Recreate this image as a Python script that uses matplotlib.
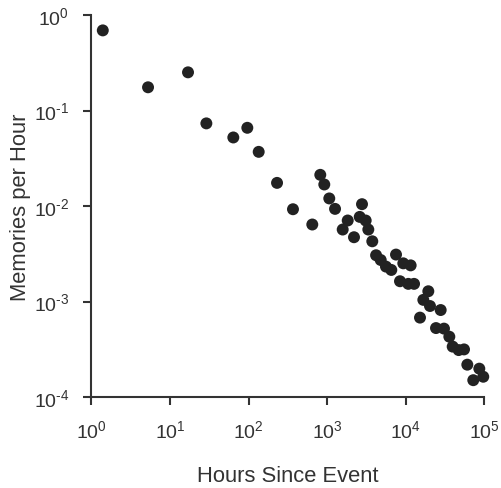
import matplotlib
matplotlib.use("Agg")
import matplotlib.pyplot as plt
from matplotlib.ticker import FixedLocator, NullLocator, FuncFormatter
import math

plt.rcParams['font.family'] = ['Liberation Sans', 'DejaVu Sans']
plt.rcParams['mathtext.fontset'] = 'custom'
plt.rcParams['mathtext.rm'] = 'Liberation Sans'
plt.rcParams['mathtext.it'] = 'Liberation Sans'

hours = [1.40, 5.27, 17.0, 29.1, 64.1, 96.6, 134.8, 230.7, 368, 648,
         819, 921, 1066, 1262, 1579, 1829, 2199, 2600, 2780, 3097, 3345, 3758,
         4200, 4810, 5610, 6560, 7530, 9320, 11560, 8460, 10790, 12770,
         19400, 16760, 20370, 27860, 15200, 24300, 30700, 35900, 39600,
         47200, 55200, 60800, 86400, 97000, 72400]
memories = [0.69, 0.175, 0.251, 0.0733, 0.0522, 0.0659, 0.0369, 0.01746, 0.00925, 0.0064,
            0.0212, 0.0168, 0.0120, 0.00933, 0.00567, 0.00705, 0.00471, 0.00769, 0.01045, 0.00705, 0.00567, 0.00427,
            0.00305, 0.00272, 0.00232, 0.00214, 0.0031, 0.00251, 0.00239, 0.00163, 0.00153, 0.00153,
            0.00128, 0.00104, 0.000897, 0.000814, 0.000678, 0.000527, 0.00052, 0.000428, 0.000337,
            0.00031, 0.000315, 0.000218, 0.000198, 0.000163, 0.000150]

x_ticks = [1, 10, 100, 1000, 10000, 100000]
y_ticks = [1e-4, 1e-3, 1e-2, 1e-1, 1]
x_label = "Hours Since Event"
y_label = "Memories per Hour"

fig = plt.figure(figsize=(5.01, 4.89), dpi=100)
ax = fig.add_axes([91.3/501, 1-398/489, 393/501, 382/489])
ax.set_xscale('log')
ax.set_yscale('log')
ax.scatter(hours, memories, s=74, color='#222222', edgecolors='none', zorder=3, clip_on=False)
ax.set_xlim(1, 1e5)
ax.set_ylim(1e-4, 1)

ax.xaxis.set_major_locator(FixedLocator(x_ticks))
ax.yaxis.set_major_locator(FixedLocator(y_ticks))
ax.xaxis.set_minor_locator(NullLocator())
ax.yaxis.set_minor_locator(NullLocator())

def fmt(v, pos):
    e = int(round(math.log10(v)))
    if e < 0:
        return r'$\mathregular{10^{\text{-}%d}}$' % (-e)
    return r'$\mathregular{10^{%d}}$' % e
ax.xaxis.set_major_formatter(FuncFormatter(fmt))
ax.yaxis.set_major_formatter(FuncFormatter(fmt))

for s in ['top', 'right']:
    ax.spines[s].set_visible(False)
for s in ['left', 'bottom']:
    ax.spines[s].set_linewidth(1.5)
    ax.spines[s].set_color('#333333')
ax.tick_params(axis='both', which='major', direction='out', length=6, width=1.5,
               color='#333333', labelsize=14, labelcolor='#333333')
ax.tick_params(axis='x', pad=10)
ax.tick_params(axis='y', pad=10)

ax.set_xlabel(x_label, fontsize=15.8, color='#333333')
ax.set_ylabel(y_label, fontsize=15.8, color='#333333')
ax.yaxis.set_label_coords(-(91.3-20)/393, 0.5)
ax.xaxis.set_label_coords(0.5, -(477-398)/382)
ax.xaxis.label.set_va('center')
ax.yaxis.label.set_va('center')

fig.savefig('out.png', dpi=100, facecolor='white')
